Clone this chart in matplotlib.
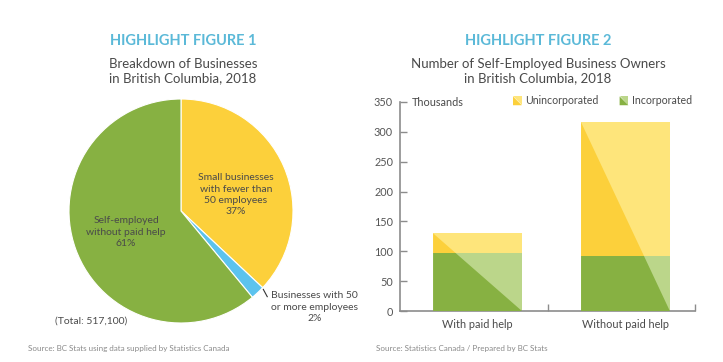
import matplotlib
matplotlib.use("Agg")
import matplotlib.pyplot as plt
from matplotlib.patches import Polygon
from matplotlib.legend_handler import HandlerBase

plt.rcParams['font.family'] = ['Lato', 'DejaVu Sans']

# ---- data ----
pie_labels = ["Small businesses\nwith fewer than\n50 employees", "Businesses with 50\nor more employees",
              "Self-employed\nwithout paid help"]
pie_shares = [37, 2, 61]
total_businesses = "517,100"

bar_categories = ["With paid help", "Without paid help"]
incorporated = [97, 92]
unincorporated = [33, 224]
y_ticks = [0, 50, 100, 150, 200, 250, 300, 350]

# ---- styles ----
YEL = "#FCD03B"
YEL_L = "#FEE57B"
GRN = "#87B142"
GRN_L = "#BBD68A"
BLUE = "#5CC3EE"
TITLE_C = "#5BB9D8"
TXT = "#4a4a4a"
AXC = "#8c8c8c"

W, H = 723, 362
fig = plt.figure(figsize=(W / 100, H / 100), dpi=100)

def fx(px):
    return px / W

def fy(py):
    return 1 - py / H

# ---- titles ----
fig.text(fx(183), fy(41), "HIGHLIGHT FIGURE 1", ha="center", va="center", fontsize=10.5,
         fontweight="bold", color=TITLE_C)
fig.text(fx(183), fy(71), "Breakdown of Businesses\nin British Columbia, 2018", ha="center",
         va="center", fontsize=9.5, color=TXT, linespacing=1.3)
fig.text(fx(538), fy(41), "HIGHLIGHT FIGURE 2", ha="center", va="center", fontsize=10.5,
         fontweight="bold", color=TITLE_C)
fig.text(fx(538), fy(71), "Number of Self-Employed Business Owners\nin British Columbia, 2018",
         ha="center", va="center", fontsize=9.5, color=TXT, linespacing=1.3)

# ---- pie ----
cx, cy, r = 181, 211, 112
axp = fig.add_axes([fx(cx - r), fy(cy + r), 2 * r / W, 2 * r / H])
wedges, _ = axp.pie(pie_shares, colors=[YEL, BLUE, GRN], startangle=90, counterclock=False,
                    radius=1, wedgeprops=dict(edgecolor="white", linewidth=0.8))
axp.set_xlim(-1, 1)
axp.set_ylim(-1, 1)
axp.set_aspect("equal")
axp.axis("off")
axp.text(0.49, 0.145, pie_labels[0] + f"\n{pie_shares[0]}%", ha="center", va="center",
         fontsize=7.5, color=TXT, linespacing=1.35)
axp.text(-0.49, -0.19, pie_labels[2] + f"\n{pie_shares[2]}%", ha="center", va="center",
         fontsize=7.5, color=TXT, linespacing=1.35)
axp.text(1.19, -0.86, pie_labels[1] + f"\n{pie_shares[1]}%", ha="center", va="center",
         fontsize=7.5, color=TXT, linespacing=1.35, clip_on=False)
axp.plot([0.735, 0.77], [-0.70, -0.765], color="#333333", lw=0.8, clip_on=False)
axp.text(-0.8, -0.98, f"(Total: {total_businesses})", ha="center", va="center", fontsize=7.5,
         color=TXT, clip_on=False)

fig.text(fx(28), fy(348), "Source: BC Stats using data supplied by Statistics Canada", ha="left",
         va="center", fontsize=5.8, color="#8a8a8a")
fig.text(fx(376), fy(348), "Source: Statistics Canada / Prepared by BC Stats", ha="left",
         va="center", fontsize=5.8, color="#8a8a8a")

# ---- bar chart ----
axb = fig.add_axes([fx(400), fy(311), 295 / W, 209 / H])
xs = list(range(len(bar_categories)))
bw = 0.6
totals = [a + b for a, b in zip(incorporated, unincorporated)]
light_inc = axb.bar(xs, incorporated, width=bw, color=GRN_L, linewidth=0, zorder=2)
light_un = axb.bar(xs, unincorporated, bottom=incorporated, width=bw, color=YEL_L, linewidth=0, zorder=2)
dark_inc = axb.bar(xs, incorporated, width=bw, color=GRN, linewidth=0, zorder=3)
dark_un = axb.bar(xs, unincorporated, bottom=incorporated, width=bw, color=YEL, linewidth=0, zorder=3)
for i, tot in enumerate(totals):
    p = light_inc[i]
    x0 = p.get_x()
    x1 = x0 + p.get_width()
    tri = Polygon([(x0, 0), (x0, tot), (x1, 0)], closed=True, transform=axb.transData,
                  facecolor="none", edgecolor="none")
    axb.add_patch(tri)
    dark_inc[i].set_clip_path(tri)
    dark_un[i].set_clip_path(tri)

axb.set_ylim(0, 350)
axb.set_xlim(-0.524, 1.47)
for s in ["top", "right"]:
    axb.spines[s].set_visible(False)
for s in ["left", "bottom"]:
    axb.spines[s].set_color(AXC)
    axb.spines[s].set_linewidth(1.2)
axb.set_yticks(y_ticks)
axb.set_yticklabels([str(v) for v in y_ticks])
axb.tick_params(axis="y", direction="in", length=5, width=1, color=AXC, labelsize=7.8,
                labelcolor="#555555", pad=5)
axb.set_xticks(xs)
axb.set_xticklabels(bar_categories)
axb.tick_params(axis="x", length=0, labelsize=7.8, labelcolor=TXT, pad=6)
axb.set_xticks([0.476, 1.47], minor=True)
axb.tick_params(axis="x", which="minor", direction="in", length=5, width=1, color=AXC)
axb.text(0.04, 1.0, "Thousands", transform=axb.transAxes, ha="left", va="center",
         fontsize=7.8, color=TXT)


class DiagHandler(HandlerBase):
    def __init__(self, dark, light):
        super().__init__()
        self.dark = dark
        self.light = light

    def create_artists(self, legend, orig_handle, xdescent, ydescent, width, height, fontsize, trans):
        s = min(width, height)
        x0, y0 = -xdescent, -ydescent
        light = Polygon([(x0, y0 + s), (x0 + s, y0 + s), (x0 + s, y0)], closed=True,
                        facecolor=self.light, edgecolor="none", transform=trans)
        dark = Polygon([(x0, y0), (x0, y0 + s), (x0 + s, y0)], closed=True,
                       facecolor=self.dark, edgecolor="none", transform=trans)
        return [light, dark]


h1 = light_un[0]
h2 = light_inc[0]
leg = fig.legend([h1, h2], ["Unincorporated", "Incorporated"], ncol=2, frameon=False,
                 loc="center left", bbox_to_anchor=(fx(513), fy(101)), fontsize=7.6,
                 handlelength=0.9, handleheight=0.9, handletextpad=0.25, columnspacing=2.0,
                 borderpad=0, borderaxespad=0,
                 handler_map={h1: DiagHandler(YEL, YEL_L), h2: DiagHandler(GRN, GRN_L)})
for t in leg.get_texts():
    t.set_color(TXT)

fig.savefig("out.png", dpi=100)
